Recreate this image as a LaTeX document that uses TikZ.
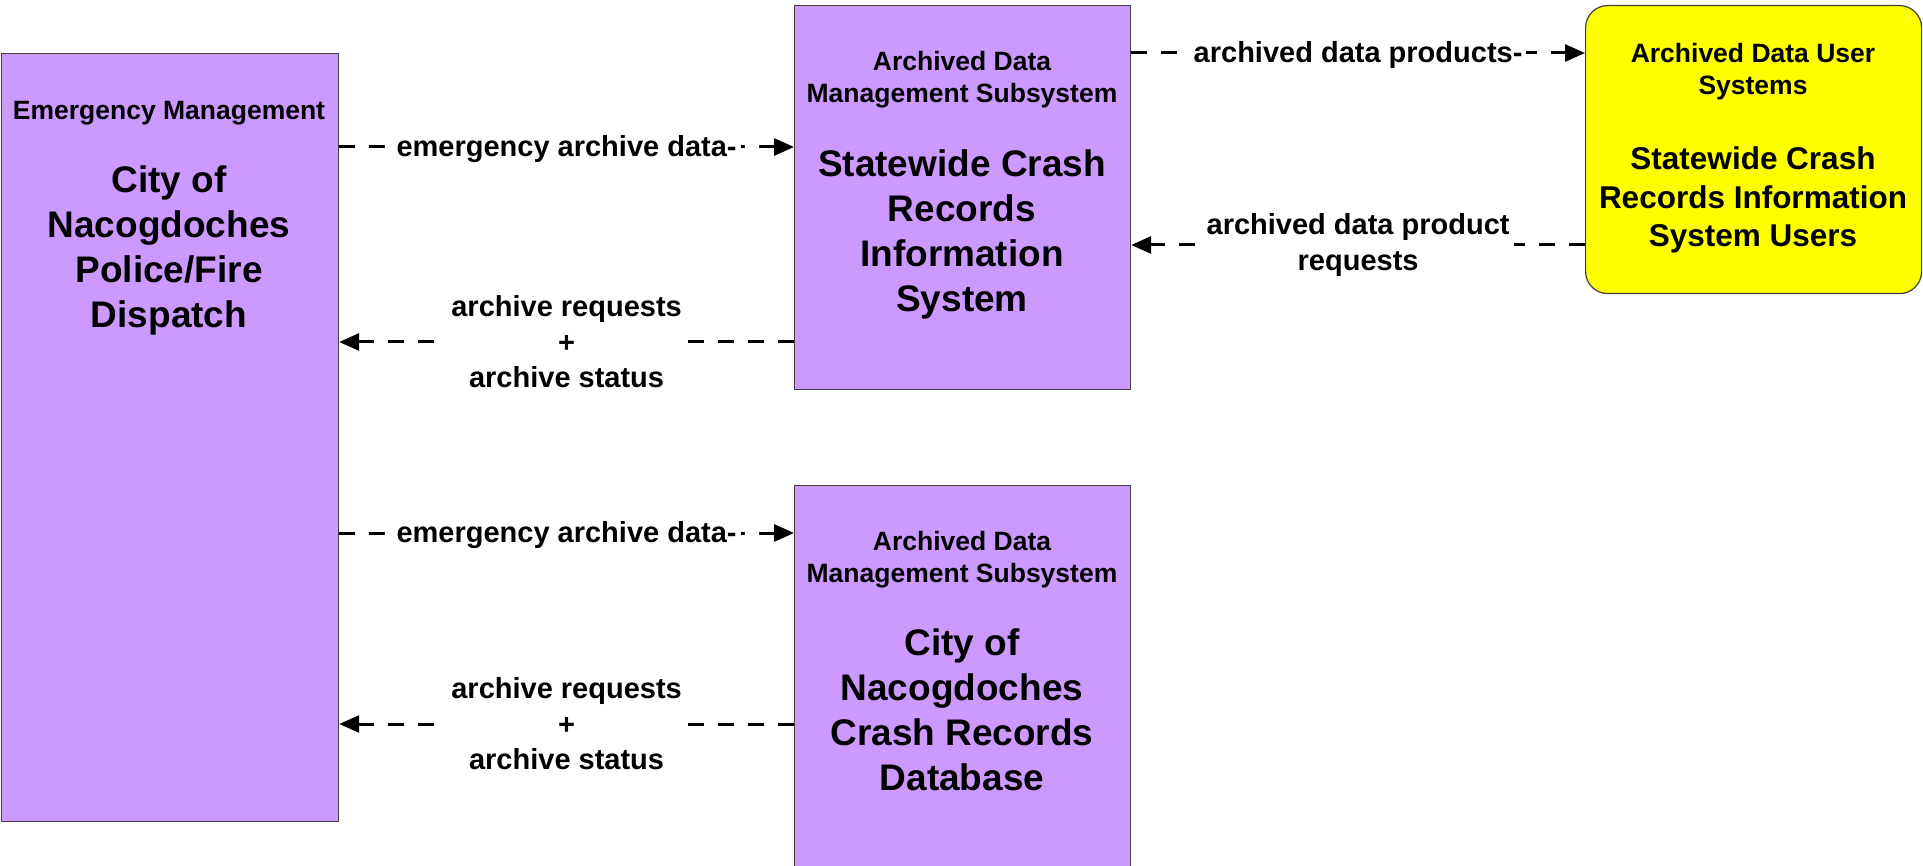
\documentclass[tikz,border=0pt]{standalone}
\usepackage{fontspec}
\setmainfont{Liberation Sans}
\usetikzlibrary{arrows.meta}
\definecolor{boxpurple}{RGB}{204,153,255}
\definecolor{boxyellow}{RGB}{255,255,0}
\definecolor{edgegray}{RGB}{64,64,64}
\begin{document}
\begin{tikzpicture}[x=1pt,y=-1pt,
  box/.style={draw=edgegray, line width=1.2pt, fill=boxpurple, minimum width=336pt, inner sep=0pt, anchor=north west},
  ubox/.style={box, fill=boxyellow, rounded corners=22pt},
  small/.style={font=\bfseries\fontsize{26.5}{32}\selectfont, align=center, anchor=base},
  big/.style={font=\bfseries\fontsize{37}{45}\selectfont, align=center, anchor=base},
  ubig/.style={font=\bfseries\fontsize{31.5}{38.5}\selectfont, align=center, anchor=base},
  flow/.style={line width=3pt, dash pattern=on 16pt off 14pt, -{Triangle[length=20pt,width=17pt]}},
  lbl/.style={font=\bfseries\fontsize{29}{35.5}\selectfont, align=center, fill=white, inner xsep=4pt, inner ysep=1pt}
]
\useasboundingbox (0,0) rectangle (1923,866);

% boxes
\node[box, minimum width=337pt, minimum height=768pt] (em) at (1,53) {};
\node[box, minimum height=384pt] (ss) at (794,5) {};
\node[ubox, minimum height=288pt] (yu) at (1585,5) {};
\node[box, minimum height=384pt] (db) at (794,485) {};

% box texts (anchor = baseline of last line)
\node[small] (emT) at (169,120) {Emergency Management};
\node[big] (emN) at (169,328) {City of\\Nacogdoches\\Police/Fire\\Dispatch};
\node[small] (ssT) at (962,103) {Archived Data\\Management Subsystem};
\node[big] (ssN) at (962,312) {Statewide Crash\\Records\\Information\\System};
\node[small] (yuT) at (1753,95) {Archived Data User\\Systems};
\node[ubig] (yuN) at (1753,247) {Statewide Crash\\Records Information\\System Users};
\node[small] (dbT) at (962,582) {Archived Data\\Management Subsystem};
\node[big] (dbN) at (962,790) {City of\\Nacogdoches\\Crash Records\\Database};

% flows
\draw[flow] ([yshift=-94pt]em.north east) -- node[lbl, yshift=-2pt] {emergency archive data-} ([yshift=-142pt]ss.north west);
\draw[flow] ([yshift=-337pt]ss.north west) -- node[lbl] {archive requests\\+\\archive status} ([yshift=-289pt]em.north east);
\draw[flow] ([yshift=-48pt]ss.north east) -- node[lbl, yshift=-2pt] {archived data products-} ([yshift=-48pt]yu.north west);
\draw[flow] ([yshift=-240pt]yu.north west) -- node[lbl] {archived data product\\requests} ([yshift=-240pt]ss.north east);
\draw[flow] ([yshift=-480pt]em.north east) -- node[lbl, yshift=-2pt] {emergency archive data-} ([yshift=-48pt]db.north west);
\draw[flow] ([yshift=-239pt]db.north west) -- node[lbl] {archive requests\\+\\archive status} ([yshift=-671pt]em.north east);
\end{tikzpicture}
\end{document}
